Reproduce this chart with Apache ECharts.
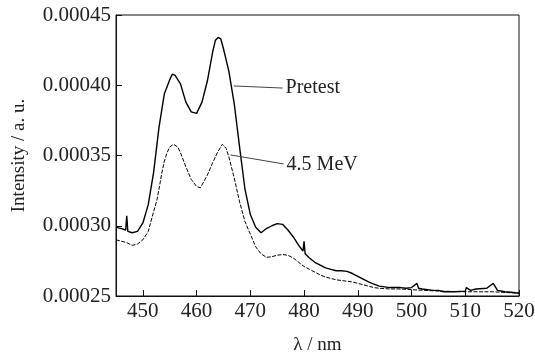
<!DOCTYPE html>
<html>
<head>
<meta charset="utf-8">
<script src="https://cdn.jsdelivr.net/npm/echarts@6/dist/echarts.min.js"></script>
<style>
html,body{margin:0;padding:0;background:#fff;}
#c{width:535px;height:358px;}
</style>
</head>
<body>
<div id="c"></div>
<script>
// Wavelength (nm) and intensity (a.u.)
var wlPre = [445,446,446.8,447,447.2,448,449,450,451,452,453,454,455,455.5,456,457,458,459,460,461,462,463,463.5,464,464.5,465,466,467,468,469,470,471,472,473,474,475,476,477,478,479,479.8,480,480.2,481,482,483,484,485,486,487,488,489,490,491,492,493,494,495,496,497,498,499,500,501,501.3,502,504,505,506,508,510,510.2,511,512,514,515.2,516,517.4,519,520];
var valPre = [2.99e-4,2.98e-4,2.97e-4,3.07e-4,2.96e-4,2.95e-4,2.96e-4,3.02e-4,3.15e-4,3.38e-4,3.70e-4,3.94e-4,4.04e-4,4.08e-4,4.07e-4,4.01e-4,3.88e-4,3.81e-4,3.80e-4,3.88e-4,4.03e-4,4.24e-4,4.32e-4,4.34e-4,4.33e-4,4.26e-4,4.10e-4,3.87e-4,3.56e-4,3.26e-4,3.08e-4,2.99e-4,2.95e-4,2.98e-4,3.00e-4,3.015e-4,3.01e-4,2.97e-4,2.92e-4,2.86e-4,2.82e-4,2.89e-4,2.80e-4,2.77e-4,2.74e-4,2.72e-4,2.70e-4,2.69e-4,2.68e-4,2.68e-4,2.675e-4,2.66e-4,2.64e-4,2.62e-4,2.60e-4,2.585e-4,2.57e-4,2.565e-4,2.56e-4,2.56e-4,2.56e-4,2.555e-4,2.56e-4,2.59e-4,2.555e-4,2.55e-4,2.54e-4,2.54e-4,2.53e-4,2.53e-4,2.535e-4,2.56e-4,2.54e-4,2.55e-4,2.555e-4,2.59e-4,2.54e-4,2.53e-4,2.525e-4,2.52e-4];
var wlIrr = [445,446,447,448,449,450,451,452,452.6,453,453.5,454,454.5,455,455.7,456.5,457,458,459,460,460.7,461,462,463,464,464.8,465.5,466,467,468,469,470,471,472,473,474,475,476,477,478,479,480,481,482,483,484,485,486,487,488,489,490,491,492,493,494,496,498,500,505,510,515,520];
var valIrr = [2.90e-4,2.89e-4,2.88e-4,2.86e-4,2.87e-4,2.90e-4,2.96e-4,3.10e-4,3.18e-4,3.26e-4,3.37e-4,3.46e-4,3.52e-4,3.56e-4,3.58e-4,3.56e-4,3.52e-4,3.42e-4,3.33e-4,3.28e-4,3.27e-4,3.28e-4,3.36e-4,3.45e-4,3.53e-4,3.58e-4,3.55e-4,3.49e-4,3.34e-4,3.17e-4,3.03e-4,2.94e-4,2.85e-4,2.80e-4,2.775e-4,2.78e-4,2.79e-4,2.795e-4,2.79e-4,2.77e-4,2.74e-4,2.71e-4,2.69e-4,2.67e-4,2.65e-4,2.635e-4,2.625e-4,2.615e-4,2.61e-4,2.605e-4,2.60e-4,2.59e-4,2.58e-4,2.57e-4,2.56e-4,2.555e-4,2.55e-4,2.55e-4,2.545e-4,2.535e-4,2.53e-4,2.53e-4,2.52e-4];
var xTicks = [450,460,470,480,490,500,510,520];
var yTicks = [0.00025,0.00030,0.00035,0.00040,0.00045];
var yTickLabels = ['0.00025','0.00030','0.00035','0.00040','0.00045'];
var seriesNames = ['Pretest','4.5 MeV'];

function zip(a,b){var o=[];for(var i=0;i<a.length;i++)o.push([a[i],b[i]]);return o;}
var serif = '"Liberation Serif","DejaVu Serif",serif';
var chart = echarts.init(document.getElementById('c'));
chart.setOption({
  animation:false,
  backgroundColor:'#fff',
  grid:{left:116,right:16,top:15,bottom:62,containLabel:false,outerBoundsMode:'none',show:true,borderColor:'#111',borderWidth:1,backgroundColor:'transparent'},
  xAxis:{type:'value',min:445,max:520,
    name:'λ / nm',nameLocation:'middle',nameGap:40,
    nameTextStyle:{fontFamily:serif,fontSize:19,color:'#222'},
    axisLine:{show:true,lineStyle:{color:'#111',width:1}},
    axisTick:{show:true,inside:true,length:6,customValues:xTicks,lineStyle:{color:'#111'}},
    axisLabel:{customValues:xTicks,fontFamily:serif,fontSize:21,color:'#222',margin:5},
    splitLine:{show:false}},
  yAxis:{type:'value',min:0.00025,max:0.00045,
    name:'Intensity / a. u.',nameLocation:'middle',nameGap:87,
    nameTextStyle:{fontFamily:serif,fontSize:19,color:'#222'},
    axisLine:{show:true,lineStyle:{color:'#111',width:1}},
    axisTick:{show:true,inside:true,length:6,customValues:yTicks,lineStyle:{color:'#111'}},
    axisLabel:{customValues:yTicks,fontFamily:serif,fontSize:21,color:'#222',margin:5,
      formatter:function(v){for(var i=0;i<yTicks.length;i++){if(Math.abs(yTicks[i]-v)<1e-9)return yTickLabels[i];}return '';}},
    splitLine:{show:false}},
  series:[
    {name:seriesNames[0],type:'line',data:zip(wlPre,valPre),showSymbol:false,
      lineStyle:{color:'#000',width:1.4},
      markLine:{silent:true,symbol:['none','none'],
        lineStyle:{color:'#444',width:1,type:'solid'},
        label:{show:true,position:'end',distance:3,formatter:seriesNames[0],fontFamily:serif,fontSize:20,color:'#222'},
        data:[[{coord:[466.9,3.995e-4]},{coord:[476.0,3.98e-4]}]]}},
    {name:seriesNames[1],type:'line',data:zip(wlIrr,valIrr),showSymbol:false,
      lineStyle:{color:'#000',width:1,type:[4,1.5]},
      markLine:{silent:true,symbol:['none','none'],
        lineStyle:{color:'#444',width:1,type:'solid'},
        label:{show:true,position:'end',distance:3,formatter:seriesNames[1],fontFamily:serif,fontSize:20,color:'#222'},
        data:[[{coord:[466.3,3.504e-4]},{coord:[476.2,3.44e-4]}]]}}
  ]
});
</script>
</body>
</html>
